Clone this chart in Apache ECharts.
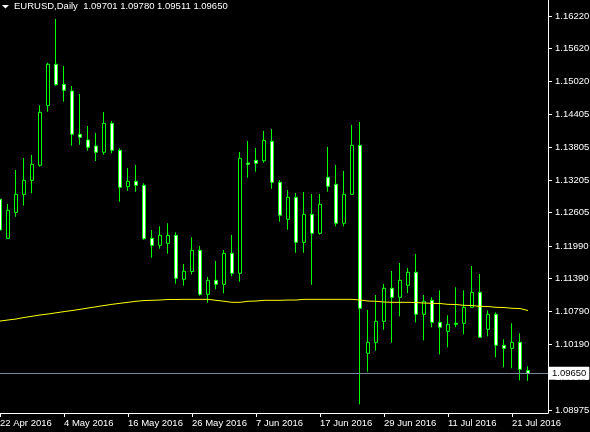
<!DOCTYPE html>
<html><head><meta charset="utf-8">
<script src="https://cdn.jsdelivr.net/npm/echarts@6/dist/echarts.min.js"></script>
<style>html,body{margin:0;padding:0;background:#000;}#c{width:590px;height:432px;}</style>
</head><body><div id="c"></div>
<script>
const headerText = 'EURUSD,Daily  1.09701 1.09780 1.09511 1.09650';
const dates = ['22 Apr 2016','25 Apr 2016','26 Apr 2016','27 Apr 2016','28 Apr 2016','29 Apr 2016','2 May 2016','3 May 2016','4 May 2016','5 May 2016',
  '6 May 2016','9 May 2016','10 May 2016','11 May 2016','12 May 2016','13 May 2016','16 May 2016','17 May 2016','18 May 2016','19 May 2016',
  '20 May 2016','23 May 2016','24 May 2016','25 May 2016','26 May 2016','27 May 2016','30 May 2016','31 May 2016','1 Jun 2016','2 Jun 2016',
  '3 Jun 2016','6 Jun 2016','7 Jun 2016','8 Jun 2016','9 Jun 2016','10 Jun 2016','13 Jun 2016','14 Jun 2016','15 Jun 2016','16 Jun 2016',
  '17 Jun 2016','20 Jun 2016','21 Jun 2016','22 Jun 2016','23 Jun 2016','24 Jun 2016','27 Jun 2016','28 Jun 2016','29 Jun 2016','30 Jun 2016',
  '1 Jul 2016','4 Jul 2016','5 Jul 2016','6 Jul 2016','7 Jul 2016','8 Jul 2016','11 Jul 2016','12 Jul 2016','13 Jul 2016','14 Jul 2016',
  '15 Jul 2016','18 Jul 2016','19 Jul 2016','20 Jul 2016','21 Jul 2016','22 Jul 2016','25 Jul 2016'];
const open = [1.12849,1.12132,1.12610,1.12941,1.13199,1.13475,1.14571,1.15332,1.14964,1.14841,
  1.14045,1.13940,1.13829,1.13714,1.14247,1.13750,1.13081,1.13180,1.13107,1.12132,
  1.12003,1.12040,1.12187,1.11378,1.11522,1.11911,1.11102,1.11360,1.11286,1.11856,
  1.11489,1.13517,1.13566,1.13559,1.13916,1.13162,1.12482,1.12886,1.12058,1.12573,
  1.12224,1.13254,1.13125,1.12408,1.12941,1.13842,1.10017,1.10220,1.10606,1.11213,
  1.11047,1.11268,1.11507,1.10735,1.10992,1.10587,1.10422,1.10569,1.10569,1.10863,
  1.11139,1.10459,1.10735,1.10165,1.10109,1.10220,1.09701];
const close = [1.12285,1.12647,1.12941,1.13199,1.13493,1.14449,1.15332,1.14957,1.14854,1.14045,
  1.13989,1.13806,1.13714,1.14247,1.13750,1.13070,1.13180,1.13107,1.12125,1.12003,
  1.12187,1.12187,1.11397,1.11525,1.11911,1.11102,1.11360,1.11286,1.11856,1.11489,
  1.13603,1.13493,1.13511,1.13934,1.13162,1.12555,1.12886,1.12058,1.12573,1.12224,
  1.12757,1.13088,1.12408,1.12941,1.13842,1.10845,1.10220,1.10606,1.11213,1.11047,
  1.11360,1.11507,1.10735,1.10974,1.10587,1.10496,1.10551,1.10551,1.10863,1.11139,
  1.10312,1.10735,1.10165,1.10109,1.10220,1.09723,1.09650];
const high = [1.12910,1.12763,1.13388,1.13609,1.13664,1.14578,1.15361,1.16165,1.15300,1.14933,
  1.14786,1.14197,1.14068,1.14455,1.14289,1.13787,1.13425,1.13480,1.13144,1.12285,
  1.12353,1.12408,1.12242,1.11660,1.12151,1.11991,1.11420,1.11715,1.11917,1.12193,
  1.13719,1.13921,1.13793,1.14105,1.14142,1.13204,1.13020,1.12965,1.12983,1.12947,
  1.12947,1.13811,1.13480,1.13370,1.14216,1.14271,1.10814,1.11089,1.11292,1.11531,
  1.11678,1.11586,1.11843,1.11089,1.11047,1.11176,1.10716,1.11231,1.11176,1.11623,
  1.11476,1.10808,1.10771,1.10275,1.10569,1.10385,1.09780];
const low = [1.12230,1.12119,1.12529,1.12732,1.12960,1.13449,1.14460,1.14938,1.14644,1.13835,
  1.13853,1.13743,1.13554,1.13669,1.13695,1.12805,1.13007,1.12989,1.12106,1.11775,
  1.11941,1.11849,1.11297,1.11261,1.11470,1.11077,1.10948,1.11194,1.11121,1.11433,
  1.11334,1.13246,1.13357,1.13522,1.13044,1.12437,1.12290,1.11867,1.11867,1.11279,
  1.12198,1.12989,1.12353,1.12353,1.12930,1.09080,1.09679,1.10065,1.10451,1.10212,
  1.10698,1.11126,1.10587,1.10256,1.10496,1.09999,1.10128,1.10496,1.10367,1.10850,
  1.10300,1.10330,1.09944,1.09760,1.09742,1.09521,1.09511];
const ma = [1.10611,1.10630,1.10648,1.10676,1.10698,1.10722,1.10740,1.10762,1.10784,1.10804,
  1.10826,1.10850,1.10873,1.10896,1.10918,1.10937,1.10955,1.10974,1.10988,1.10992,
  1.10997,1.11007,1.11007,1.11010,1.11010,1.11010,1.11010,1.10992,1.10974,1.10955,
  1.10955,1.10974,1.10979,1.10992,1.10992,1.10992,1.10997,1.10997,1.11010,1.11010,
  1.11010,1.11010,1.11010,1.11010,1.11010,1.10997,1.10979,1.10974,1.10961,1.10955,
  1.10955,1.10955,1.10952,1.10942,1.10937,1.10933,1.10918,1.10915,1.10900,1.10896,
  1.10881,1.10878,1.10863,1.10860,1.10845,1.10841,1.10804];
const xTickIndex = [0,8,16,24,32,40,48,56,64];
const yTickLabels = ['1.16220','1.15620','1.15020','1.14405','1.13805','1.13205','1.12605','1.11990','1.11390','1.10790','1.10190','1.09575','1.08975'];
const lastPrice = 1.09650;

const FONT = 'Liberation Sans, Arial, sans-serif';
const chart = echarts.init(document.getElementById('c'), null, {renderer:'canvas'});
const candleData = dates.map((d,i)=>[i, open[i], close[i], low[i], high[i]]);
const maData = ma.map((v,i)=>[i, v]);
const yTicks = yTickLabels.map(Number);

chart.setOption({
  backgroundColor:'#000',
  animation:false,
  grid:{left:0, right:42, top:0, bottom:19, containLabel:false, outerBoundsMode:'none'},
  graphic:[
    {type:'polygon', shape:{points:[[2,5],[9,5],[5.5,8.5]]}, style:{fill:'#fff'}},
    {type:'text', left:14, top:1, style:{text:headerText, fill:'#fff', font:'9.5px '+FONT}}
  ],
  xAxis:{
    type:'value', min:0, max:68.5,
    splitLine:{show:false},
    axisLine:{show:true, onZero:false, lineStyle:{color:'#fff', width:1}},
    axisTick:{show:true, length:4, lineStyle:{color:'#fff'}, customValues:xTickIndex},
    axisLabel:{show:true, customValues:xTickIndex, formatter:v=>dates[Math.round(v)]||'', align:'left', margin:5,
      color:'#fff', fontSize:9.5, fontFamily:FONT}
  },
  yAxis:{
    type:'value', position:'right', min:1.08920, max:1.16514,
    splitLine:{show:false},
    axisLine:{show:true, onZero:false, lineStyle:{color:'#fff', width:1}},
    axisTick:{show:true, length:4, lineStyle:{color:'#fff'}, customValues:yTicks},
    axisLabel:{show:true, customValues:yTicks, formatter:v=>v.toFixed(5), margin:7,
      color:'#fff', fontSize:9.5, fontFamily:FONT}
  },
  series:[
    {
      type:'candlestick', data:candleData, encode:{x:0, y:[1,2,3,4]},
      barWidth:4,
      itemStyle:{color:'#000', color0:'#fff', borderColor:'#00ff00', borderColor0:'#00ff00', borderWidth:1}
    },
    {
      type:'line', data:maData, symbol:'none', smooth:false,
      lineStyle:{color:'#ffff00', width:1}, z:3,
      markLine:{
        silent:true, symbol:['none','none'], animation:false, precision:5,
        lineStyle:{color:'#778899', width:1, type:'solid'},
        label:{position:'end', formatter:lastPrice.toFixed(5), backgroundColor:'#fff', color:'#000',
          padding:[2,3,1,3], distance:1, fontSize:9.5, fontFamily:FONT},
        data:[{yAxis:lastPrice}]
      }
    }
  ]
});
</script></body></html>
